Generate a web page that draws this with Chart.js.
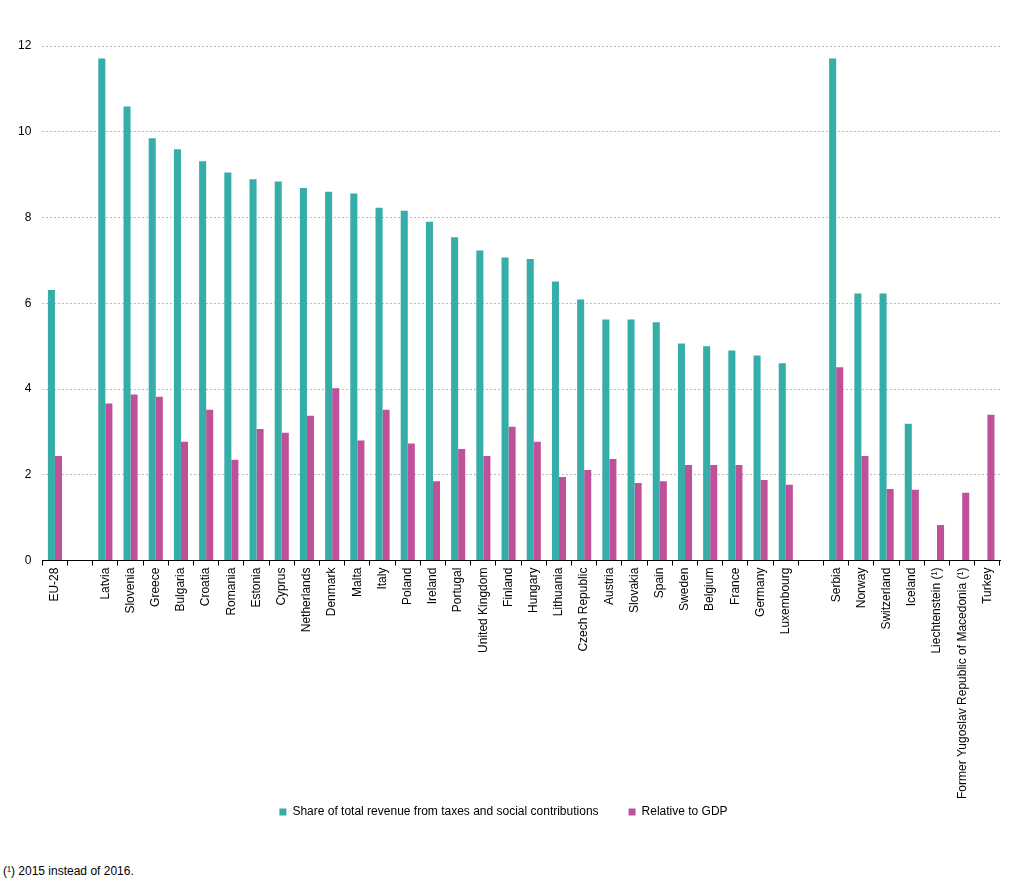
<!DOCTYPE html>
<html>
<head>
<meta charset="utf-8">
<script src="https://cdn.jsdelivr.net/npm/chart.js@4/dist/chart.umd.min.js"></script>
<style>
  body { margin: 0; background: #fff; }
  #wrap { position: relative; width: 1012px; height: 879px; }
  #box { position: absolute; left: 0; top: 0; width: 1012px; height: 853px; }
  #note { position: absolute; left: 3px; top: 864px; font: 12px Arial, "Liberation Sans", sans-serif; color: #000; }
</style>
</head>
<body>
<div id="wrap">
  <div id="box"><canvas id="myChart"></canvas></div>
  <div id="note">(¹) 2015 instead of 2016.</div>
</div>
<script>
// categories, '' = empty slot between groups
var countries = [
    'EU-28', '',
    'Latvia', 'Slovenia', 'Greece', 'Bulgaria', 'Croatia', 'Romania', 'Estonia', 'Cyprus',
    'Netherlands', 'Denmark', 'Malta', 'Italy', 'Poland', 'Ireland', 'Portugal', 'United Kingdom',
    'Finland', 'Hungary', 'Lithuania', 'Czech Republic', 'Austria', 'Slovakia', 'Spain', 'Sweden',
    'Belgium', 'France', 'Germany', 'Luxembourg', '',
    'Serbia', 'Norway', 'Switzerland', 'Iceland', 'Liechtenstein (¹)',
    'Former Yugoslav Republic of Macedonia (¹)', 'Turkey'
];

var share_revenue = [
    6.31, null,
    11.71, 10.59, 9.85, 9.59, 9.31, 9.05, 8.89, 8.84,
    8.69, 8.60, 8.56, 8.23, 8.16, 7.90, 7.54, 7.23,
    7.07, 7.03, 6.51, 6.09, 5.62, 5.62, 5.56, 5.06,
    5.00, 4.90, 4.78, 4.60, null,
    11.71, 6.23, 6.23, 3.19, null,
    null, null
];

var rel_gdp = [
    2.44, null,
    3.66, 3.87, 3.82, 2.77, 3.52, 2.35, 3.07, 2.98,
    3.38, 4.02, 2.80, 3.52, 2.73, 1.85, 2.60, 2.44,
    3.12, 2.77, 1.95, 2.11, 2.37, 1.81, 1.85, 2.23,
    2.23, 2.23, 1.88, 1.77, null,
    4.51, 2.44, 1.67, 1.65, 0.83,
    1.58, 3.40
];

var y_ticks = [0, 2, 4, 6, 8, 10, 12];

var FONT = 'Arial, "Liberation Sans", sans-serif';

// legend sits closer to the axis labels than chart.js would put it
var liftLegend = {
    id: 'liftLegend',
    afterLayout: function (chart) {
        chart.legend.top -= 25;
        chart.legend.bottom -= 25;
    }
};

var config = {
    type: 'bar',
    data: {
        labels: countries,
        datasets: [{
            label: 'Share of total revenue from taxes and social contributions',
            data: share_revenue,
            backgroundColor: '#35ADA9'
        }, {
            label: 'Relative to GDP',
            data: rel_gdp,
            backgroundColor: '#C0509A'
        }]
    },
    plugins: [liftLegend],
    options: {
        responsive: true,
        maintainAspectRatio: false,
        animation: false,
        categoryPercentage: 0.56,
        barPercentage: 1.0,
        layout: {
            padding: { top: 46, left: 7, right: 12, bottom: 0 }
        },
        plugins: {
            legend: {
                position: 'bottom',
                labels: {
                    boxWidth: 7,
                    boxHeight: 7,
                    padding: 30,
                    color: '#000',
                    font: { family: FONT, size: 12 }
                }
            },
            tooltip: { enabled: false }
        },
        scales: {
            x: {
                grid: {
                    drawOnChartArea: false,
                    drawTicks: true,
                    tickLength: 5,
                    color: '#000',
                    offset: true
                },
                border: { display: true, color: '#000', width: 1 },
                ticks: {
                    autoSkip: false,
                    maxRotation: 90,
                    minRotation: 90,
                    padding: 2,
                    color: '#000',
                    font: { family: FONT, size: 12 }
                }
            },
            y: {
                min: 0,
                max: 12,
                afterBuildTicks: function (axis) {
                    axis.ticks = y_ticks.map(function (v) { return { value: v }; });
                },
                grid: {
                    drawTicks: false,
                    color: function (ctx) { return ctx.tick.value === 0 ? 'rgba(0,0,0,0)' : '#bdbdbd'; }
                },
                border: { display: false, dash: [2, 2] },
                ticks: {
                    padding: 11,
                    color: '#000',
                    font: { family: FONT, size: 12 }
                }
            }
        }
    }
};

window.addEventListener('load', function () {
    var ctx = document.getElementById('myChart').getContext('2d');
    myChart = new Chart(ctx, config);
}, false);
</script>
</body>
</html>
